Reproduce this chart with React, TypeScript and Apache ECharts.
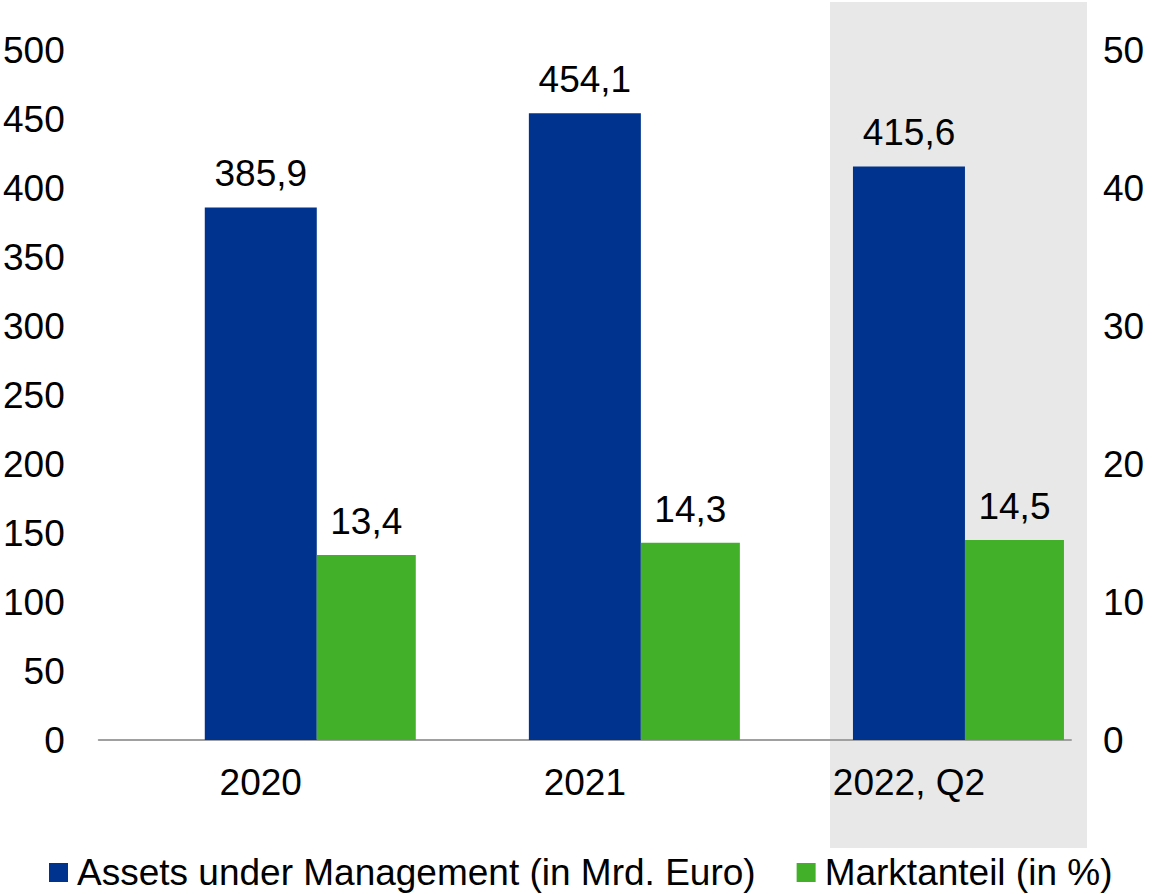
import React, { useEffect, useRef } from "react";
import * as echarts from "echarts";

const categories = ["2020", "2021", "2022, Q2"];
const assets = [385.9, 454.1, 415.6];
const share = [13.4, 14.3, 14.5];
const placeholder = ["-", "-", "-"];
const seriesNames = ["Assets under Management (in Mrd. Euro)", "Marktanteil (in %)"];

const FONT = "'Liberation Sans', Arial, sans-serif";
const FS = 37;

export default function App() {
  const ref = useRef<HTMLDivElement>(null);
  useEffect(() => {
    if (!ref.current) return;
    const chart = echarts.init(ref.current, undefined, { renderer: "svg" });
    const fmt = (p: any) => String(p.value).replace(".", ",");
    chart.setOption({
      animation: false,
      textStyle: { fontFamily: FONT, color: "#000" },
      graphic: [
        {
          type: "rect",
          z: -10,
          shape: { x: 830, y: 2, width: 257, height: 846 },
          style: { fill: "#e8e8e8" },
        },
      ],
      grid: { left: 98, right: 85, top: 50, bottom: 154, containLabel: false },
      legend: {
        data: seriesNames,
        left: 44,
        top: 849,
        icon: "rect",
        itemWidth: 19,
        itemHeight: 19,
        itemGap: 41,
        textStyle: { fontSize: FS, fontFamily: FONT, color: "#000", padding: [0, 0, 0, 4] },
      },
      xAxis: {
        type: "category",
        data: categories,
        axisLine: { lineStyle: { color: "#a0a0a0", width: 2 } },
        axisTick: { show: false },
        axisLabel: { fontSize: FS, fontFamily: FONT, color: "#000", margin: 24 },
      },
      yAxis: [
        {
          type: "value",
          min: 0,
          max: 500,
          interval: 50,
          splitLine: { show: false },
          axisLine: { show: false },
          axisTick: { show: false },
          axisLabel: { fontSize: FS, fontFamily: FONT, color: "#000", margin: 34 },
        },
        {
          type: "value",
          min: 0,
          max: 50,
          interval: 10,
          splitLine: { show: false },
          axisLine: { show: false },
          axisTick: { show: false },
          axisLabel: { fontSize: FS, fontFamily: FONT, color: "#000", margin: 32 },
        },
      ],
      series: [
        {
          name: "_spacer",
          type: "bar",
          yAxisIndex: 0,
          barWidth: 99,
          barGap: "0%",
          data: placeholder,
          silent: true,
        },
        {
          name: seriesNames[0],
          type: "bar",
          yAxisIndex: 0,
          barWidth: 112,
          barGap: "0%",
          data: assets,
          itemStyle: { color: "#00338d" },
          label: {
            show: true,
            position: "top",
            distance: 15,
            fontSize: FS,
            fontFamily: FONT,
            color: "#000",
            formatter: fmt,
          },
        },
        {
          name: seriesNames[1],
          type: "bar",
          yAxisIndex: 1,
          barWidth: 99,
          barGap: "0%",
          data: share,
          itemStyle: { color: "#43b02a" },
          label: {
            show: true,
            position: "top",
            distance: 15,
            fontSize: FS,
            fontFamily: FONT,
            color: "#000",
            formatter: fmt,
          },
        },
      ],
    });
    return () => chart.dispose();
  }, []);
  return (
    <div
      ref={ref}
      style={{ position: "fixed", left: 0, top: 0, width: 1156, height: 894, background: "#fff" }}
    />
  );
}
